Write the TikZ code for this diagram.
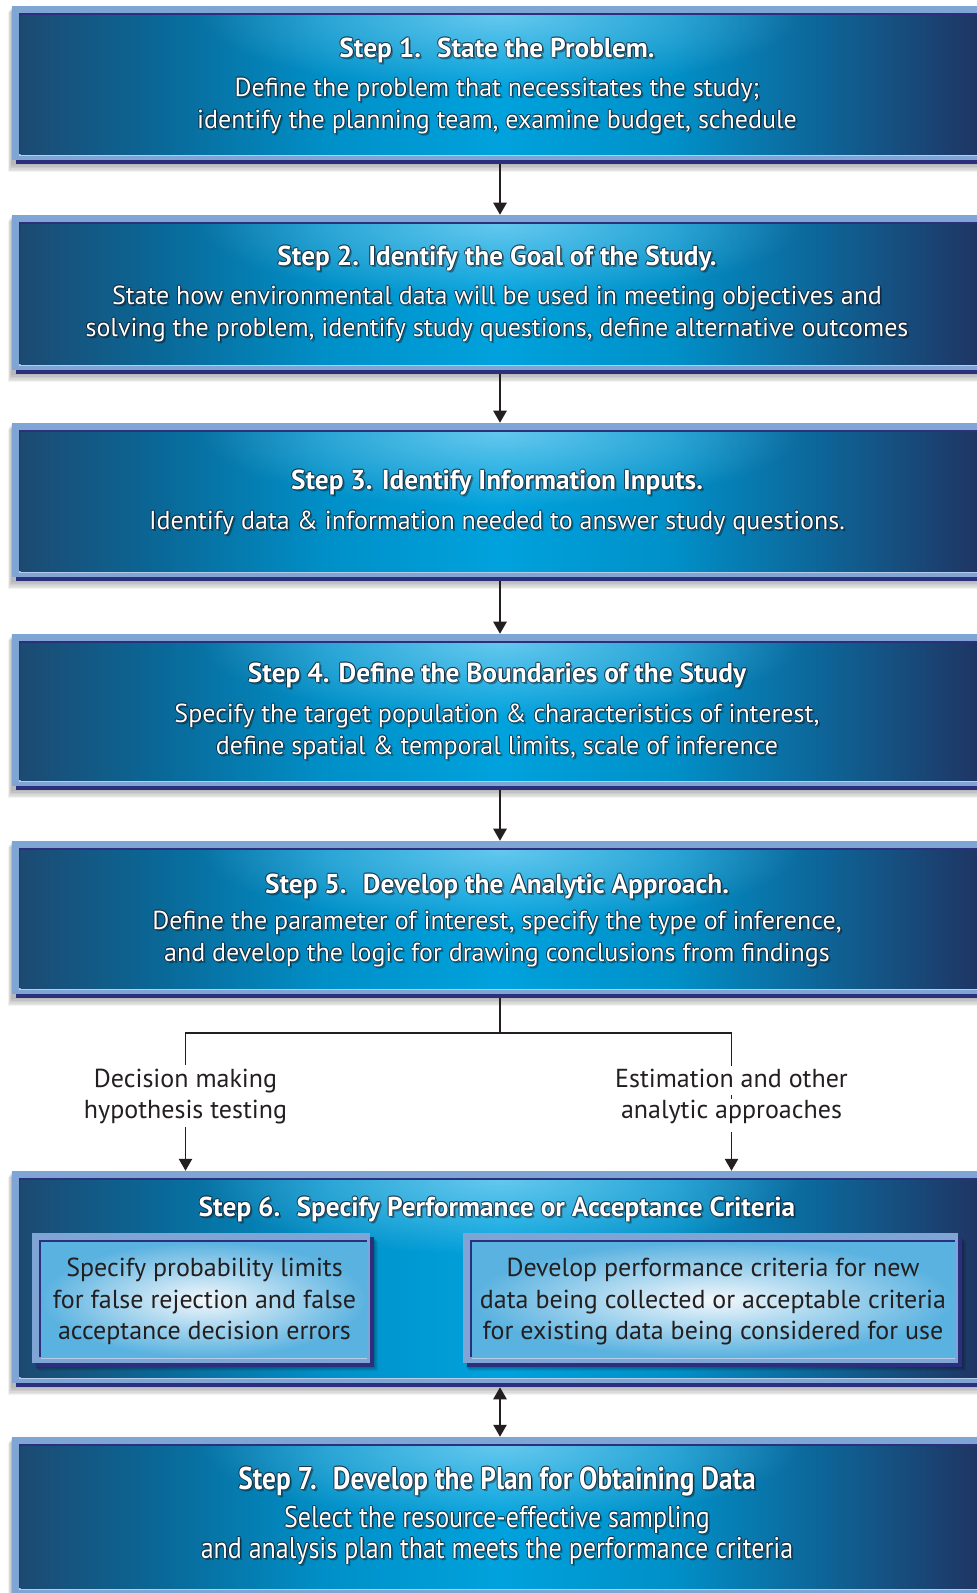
\documentclass[tikz,border=0pt]{standalone}
\usepackage{fontspec}
\usepackage{graphicx}
\setmainfont{PT Sans}
\usetikzlibrary{arrows.meta,fadings,fit}
\definecolor{c0}{HTML}{1C4A72}
\definecolor{c1}{HTML}{0A6796}
\definecolor{c2}{HTML}{0090C8}
\definecolor{c3}{HTML}{00A2DD}
\definecolor{c4}{HTML}{105E90}
\definecolor{c5}{HTML}{1F3563}
\definecolor{framec}{HTML}{7FA5D5}
\definecolor{framelt}{HTML}{B8CDE9}
\definecolor{navyc}{HTML}{2B2F7E}
\definecolor{glowc}{HTML}{8FD8F5}
\definecolor{outl}{HTML}{15202E}
\definecolor{inkc}{HTML}{231F20}
\definecolor{inlt}{HTML}{F2F8FC}
\definecolor{indk}{HTML}{5AB2E0}
\pgfdeclarehorizontalshading{boxshade}{100bp}{color(0bp)=(c0); color(25bp)=(c0); color(32bp)=(c1); color(41bp)=(c2); color(50bp)=(c3); color(59bp)=(c2); color(68bp)=(c4); color(75bp)=(c5); color(100bp)=(c5)}
\tikzfading[name=glowfade, inner color=transparent!30, outer color=transparent!100]

\newcommand\tallish[1]{\scalebox{1}[1.15]{#1}}

\tikzset{
  steptitle/.style={anchor=base, inner sep=0pt, font=\fontsize{20.5}{24}\selectfont\bfseries},
  stepbody/.style={anchor=base, inner sep=0pt, font=\fontsize{19.5}{23}\selectfont},
  innertext/.style={anchor=base, inner sep=0pt, text=inkc, font=\fontsize{19.5}{23}\selectfont},
  lbl/.style={anchor=base, inner sep=0pt, text=inkc, font=\fontsize{19.5}{23}\selectfont},
  ln/.style={draw=inkc, line width=1.3pt},
  arr/.style={draw=inkc, line width=1.3pt, -{Triangle[width=10pt,length=9pt]}},
  darr/.style={draw=inkc, line width=1.3pt, {Triangle[width=10pt,length=9pt]}-{Triangle[width=10pt,length=9pt]}},
  hitbox/.style={inner sep=0pt, draw=none}
}

% big framed box: #1 top, #2 bottom
\newcommand\bigframe[2]{%
  \foreach \k in {1,...,6} \fill[black,opacity=0.05] ({12-\k*0.7},{#1+\k}) rectangle (995,{#2+\k*1.4});
  \fill[navyc] (16,{#1+4}) rectangle (995,#2);
  \fill[framec] (12,#1) rectangle (995,{#2-4});
  \fill[framelt] (19,{#2-10}) rectangle (995,{#2-8});
  \fill[navyc] (19,{#1+7}) rectangle (995,{#2-10});
  \shade[shading=boxshade] (20.5,{#1+9}) rectangle (979.5,{#2-10});
  \begin{scope}
    \clip (20.5,{#1+9}) rectangle (979.5,{#2-10});
    \fill[glowc, path fading=glowfade] (500,{#1+9}) ellipse (300 and 75);
  \end{scope}
}
% small framed box: #1 x1, #2 y1, #3 x2, #4 y2 (light frame)
\newcommand\smallframe[4]{%
  \foreach \k in {1,...,4} \fill[black,opacity=0.07] ({#1+2+\k},{#2+4+\k}) rectangle ({#3+4+\k},{#4+4+\k});
  \fill[navyc] ({#1+4},{#2+4}) rectangle ({#3+4},{#4+4});
  \fill[framec] (#1,#2) rectangle (#3,#4);
  \fill[framelt] ({#1+9},{#4-6}) rectangle ({#3-3},{#4-4});
  \fill[navyc] ({#1+7},{#2+7}) rectangle ({#3-3},{#4-6});
  \shade[inner color=inlt, outer color=indk] ({#1+9},{#2+9}) rectangle ({#3-3},{#4-6});
}
% white shadowed text line: #1 name, #2 style, #3 baseline y, #4 text
\newcommand\wline[4]{%
  \node[#2, text=black, opacity=0.35] (#1s) at (499,{#3+2.5}) {#4};
  \foreach \dx/\dy [count=\k] in {1/0,-1/0,0/1,0/-1,0.7/0.7,-0.7/0.7,0.7/-0.7,-0.7/-0.7}
    \node[#2, text=outl, opacity=0.45] (#1o\k) at ({497+\dx},{#3+\dy}) {#4};
  \node[#2, text=white] (#1) at (497,#3) {#4};
}

\begin{document}
\begin{tikzpicture}[x=0.75pt,y=-0.75pt]
\useasboundingbox (0,0) rectangle (977,1593);
\clip (0,0) rectangle (977,1593);
\fill[white] (0,0) rectangle (977,1593);

% frames
\bigframe{6}{164}
\bigframe{215}{374}
\bigframe{423}{581}
\bigframe{634}{790}
\bigframe{841}{998}
\bigframe{1171}{1387}
\bigframe{1437}{1598}
\smallframe{32}{1233}{370}{1363}
\smallframe{463}{1233}{958}{1363}

% box nodes
\node[hitbox, fit={(12,6) (988,164)}] (box1) {};
\node[hitbox, fit={(12,215) (988,374)}] (box2) {};
\node[hitbox, fit={(12,423) (988,581)}] (box3) {};
\node[hitbox, fit={(12,634) (988,790)}] (box4) {};
\node[hitbox, fit={(12,841) (988,998)}] (box5) {};
\node[hitbox, fit={(12,1171) (988,1387)}] (box6) {};
\node[hitbox, fit={(12,1437) (988,1598)}] (box7) {};
\node[hitbox, fit={(32,1233) (374,1367)}] (in1) {};
\node[hitbox, fit={(463,1233) (962,1367)}] (in2) {};

% texts
\wline{t1}{steptitle}{57}{Step 1.~ State the Problem.}
\wline{t1a}{stepbody}{96}{Define the problem that necessitates the study;}
\wline{t1b}{stepbody}{128}{identify the planning team, examine budget, schedule}

\wline{t2}{steptitle}{265}{Step 2. Identify the Goal of the Study.}
\wline{t2a}{stepbody}{304}{State how environmental data will be used in meeting objectives and}
\wline{t2b}{stepbody}{336}{solving the problem, identify study questions, define alternative outcomes}

\wline{t3}{steptitle}{489}{Step 3. Identify Information Inputs.}
\wline{t3a}{stepbody}{529}{Identify data \& information needed to answer study questions.}

\wline{t4}{steptitle}{682}{Step 4. Define the Boundaries of the Study}
\wline{t4a}{stepbody}{722}{Specify the target population \& characteristics of interest,}
\wline{t4b}{stepbody}{754}{define spatial \& temporal limits, scale of inference}

\wline{t5}{steptitle}{893}{Step 5.~ Develop the Analytic Approach.}
\wline{t5a}{stepbody}{929}{Define the parameter of interest, specify the type of inference,}
\wline{t5b}{stepbody}{961}{and develop the logic for drawing conclusions from findings}

\wline{t6}{steptitle}{1216}{Step 6.~ Specify Performance or Acceptance Criteria}
\node[innertext] (l6a) at (204.5,1276) {Specify probability limits};
\node[innertext] (l6b) at (204.5,1308) {for false rejection and false};
\node[innertext] (l6c) at (204.5,1339) {acceptance decision errors};
\node[innertext] (r6a) at (713,1276) {Develop performance criteria for new};
\node[innertext] (r6b) at (713,1308) {data being collected or acceptable criteria};
\node[innertext] (r6c) at (713,1339) {for existing data being considered for use};

\wline{t7}{steptitle}{1489}{\tallish{Step 7.~ Develop the Plan for Obtaining Data}}
\wline{t7a}{stepbody}{1527}{\tallish{Select the resource-effective sampling}}
\wline{t7b}{stepbody}{1558}{\tallish{and analysis plan that meets the performance criteria}}

% labels
\node[lbl] (dl1) at (185.5,1087) {Decision making};
\node[lbl] (dl2) at (185.5,1118) {hypothesis testing};
\node[lbl] (er1) at (731.5,1087) {Estimation and other};
\node[lbl] (er2) at (731.5,1118) {analytic approaches};

% connectors
\draw[arr] (box1.south) -- (box2.north);
\draw[arr] (box2.south) -- (box3.north);
\draw[arr] (box3.south) -- (box4.north);
\draw[arr] (box4.south) -- (box5.north);
\coordinate (jc) at (500,1033);
\coordinate (jl) at (185.5,1033);
\coordinate (jr) at (731.5,1033);
\coordinate (lend) at (185.5,1065);
\coordinate (lst) at (185.5,1127);
\coordinate (rend) at (731.5,1066);
\coordinate (rd1) at (731.5,1095);
\coordinate (rd2) at (731.5,1099);
\coordinate (rst) at (731.5,1132);
\draw[ln] (box5.south) -- (jc);
\draw[ln, line cap=rect] (jl) -- (jr);
\draw[ln] (jl) -- (lend);
\draw[ln] (jr) -- (rend);
\draw[ln] (rd1) -- (rd2);
\draw[arr] (lst) -- (lst |- box6.north);
\draw[arr] (rst) -- (rst |- box6.north);
\draw[darr] (box6.south) -- (box7.north);
\end{tikzpicture}
\end{document}
